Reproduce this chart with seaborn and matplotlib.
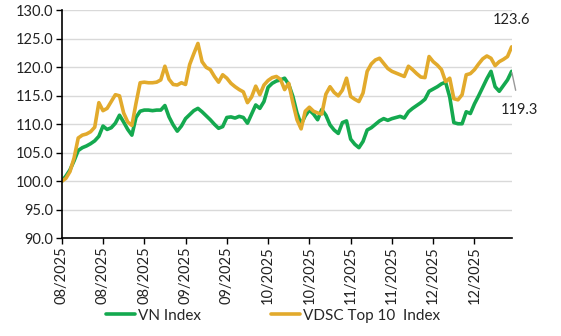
import numpy as np
import pandas as pd
import matplotlib
matplotlib.use("Agg")
import matplotlib.pyplot as plt
import seaborn as sns

# Daily index levels rebased to 100 (Aug–Dec 2025)
vn_index = [
    100.0, 100.9, 102.0, 103.6, 105.4, 105.9, 106.2, 106.6, 107.1, 107.9,
    109.7, 109.1, 109.4, 110.2, 111.6, 110.4, 109.1, 108.1, 111.2, 112.3,
    112.5, 112.5, 112.4, 112.5, 112.5, 113.3, 111.3, 109.9, 108.8, 109.7,
    111.0, 111.7, 112.4, 112.8, 112.2, 111.5, 110.8, 110.0, 109.3, 109.6,
    111.2, 111.3, 111.1, 111.4, 111.2, 110.2, 111.8, 113.4, 112.8, 114.0,
    116.5, 117.2, 117.6, 117.8, 118.1, 117.0, 114.9, 112.0, 110.0, 111.5,
    112.5, 111.8, 110.8, 112.6, 111.6, 109.9, 109.0, 108.4, 110.3, 110.6,
    107.4, 106.5, 105.9, 107.0, 109.0, 109.4, 110.0, 110.6, 111.0, 110.7,
    111.0, 111.2, 111.4, 111.1, 112.2, 112.8, 113.3, 113.8, 114.4, 115.8,
    116.2, 116.6, 117.1, 117.4, 114.8, 110.3, 110.1, 110.1, 112.2, 111.9,
    113.6, 115.0, 116.5, 118.0, 119.3, 116.6, 115.8, 116.8, 117.8, 119.3,
]
vdsc_top10 = [
    100.0, 100.5, 101.7, 104.1, 107.6, 108.1, 108.3, 108.7, 109.5, 113.8,
    112.4, 112.8, 114.0, 115.2, 115.0, 112.0, 110.4, 109.8, 113.7, 117.3,
    117.4, 117.3, 117.3, 117.4, 117.8, 120.2, 117.9, 117.0, 116.9, 117.3,
    117.0, 120.5, 122.4, 124.2, 121.0, 120.0, 119.6, 118.4, 117.4, 118.7,
    118.1, 117.2, 116.6, 116.1, 115.7, 113.8, 114.8, 116.7, 115.2, 116.9,
    117.7, 118.2, 118.4, 117.9, 116.1, 117.2, 113.8, 110.8, 109.2, 112.3,
    113.0, 112.3, 112.0, 111.8, 115.3, 116.6, 115.6, 115.0, 116.0, 118.1,
    114.9, 114.4, 114.0, 115.5, 119.3, 120.6, 121.3, 121.6, 120.7, 119.8,
    119.3, 119.0, 118.7, 118.4, 120.2, 119.6, 118.9, 118.3, 118.2, 121.9,
    121.0, 120.4, 119.6, 117.5, 118.1, 114.5, 114.3, 115.2, 118.7, 118.9,
    119.6, 120.6, 121.5, 122.0, 121.6, 120.3, 121.0, 121.4, 121.9, 123.6,
]
tick_labels = ["08/2025", "08/2025", "08/2025", "09/2025", "09/2025", "10/2025",
               "10/2025", "11/2025", "11/2025", "12/2025", "12/2025"]
series_names = ["VN Index", "VDSC Top 10  Index"]
colors = ["#14a94f", "#e2aa2c"]

n = len(vn_index)
df = pd.DataFrame({
    "day": list(range(n)) * 2,
    "value": vn_index + vdsc_top10,
    "series": [series_names[0]] * n + [series_names[1]] * n,
})

sns.set_style("white")
plt.rcParams["font.family"] = ["Lato", "DejaVu Sans"]

fig = plt.figure(figsize=(5.61, 3.36), dpi=100)
ax = fig.add_axes([0.110, 0.291, 0.802, 0.678])

sns.lineplot(data=df, x="day", y="value", hue="series", palette=colors,
             linewidth=2.6, ax=ax, legend=True)

ax.set_xlim(0, n - 1)
ax.set_ylim(90, 130)
ax.set_yticks(np.arange(90, 131, 5))
ax.set_yticklabels([f"{v:.1f}" for v in np.arange(90, 131, 5)], fontsize=10.5, color="#222222")
ax.set_xticks(np.arange(0, 10 * len(tick_labels), 10))
ax.set_xticklabels(tick_labels, rotation=90, fontsize=10.5, color="#222222")
ax.set_xlabel("")
ax.set_ylabel("")

ax.grid(axis="y", color="#d9d9d9", linewidth=1.0)
ax.set_axisbelow(True)
for side in ["top", "right"]:
    ax.spines[side].set_visible(False)
for side in ["left", "bottom"]:
    ax.spines[side].set_color("black")
    ax.spines[side].set_linewidth(1.2)
ax.tick_params(axis="both", which="major", direction="out", length=4, width=1,
               color="black", pad=2, left=True, bottom=True)

# End-of-period value labels
last = n - 1
ax.annotate(f"{vdsc_top10[-1]:.1f}", xy=(last, vdsc_top10[-1]), xytext=(last, 128.3),
            ha="center", va="center", fontsize=10.5, color="#222222",
            annotation_clip=False)
ax.annotate(f"{vn_index[-1]:.1f}", xy=(last, vn_index[-1]), xytext=(last + 2.0, 112.5),
            ha="center", va="center", fontsize=10.5, color="#222222",
            arrowprops=dict(arrowstyle="-", color="#999999", lw=1.0, shrinkA=7, shrinkB=1),
            annotation_clip=False)

handles, labels = ax.get_legend_handles_labels()
ax.legend(handles, labels, loc="center", bbox_to_anchor=(0.47, -0.34),
          ncol=2, frameon=False, fontsize=11, handlelength=1.9,
          handletextpad=0.2, columnspacing=4.6)

fig.savefig("out.png", dpi=100)
